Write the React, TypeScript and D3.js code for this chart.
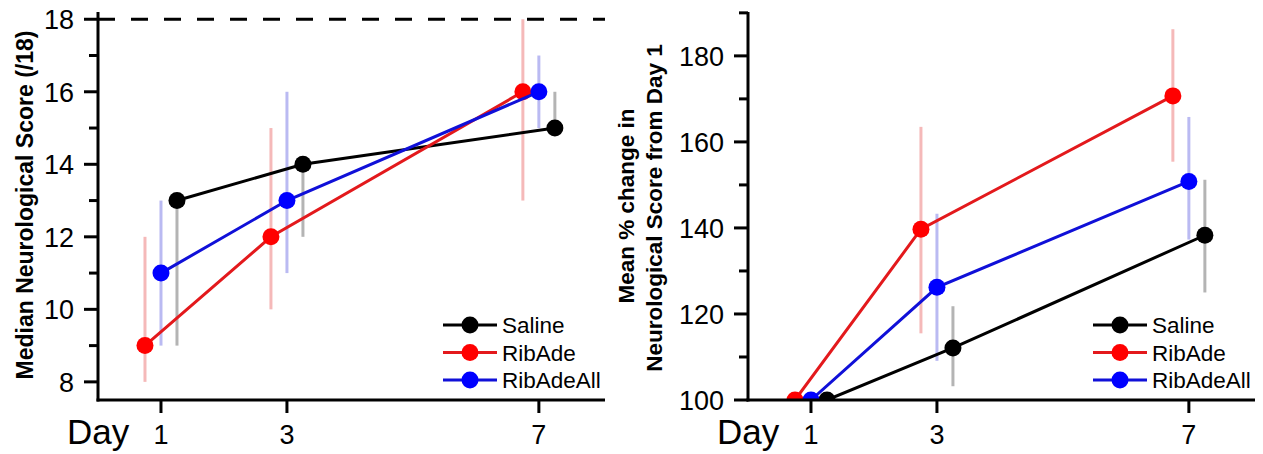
import * as d3 from 'd3'

// x categories
const days = [1, 3, 7]
const seriesNames = ['Saline', 'RibAde', 'RibAdeAll']

// left panel: median neurological score with IQR
const medianSaline = [13, 14, 15]
const medianSalineLow = [9, 12, 15]
const medianSalineHigh = [13, 14, 16]
const medianRibAde = [9, 12, 16]
const medianRibAdeLow = [8, 10, 13]
const medianRibAdeHigh = [12, 15, 18]
const medianRibAdeAll = [11, 13, 16]
const medianRibAdeAllLow = [9, 11, 15]
const medianRibAdeAllHigh = [13, 16, 17]

// right panel: mean % change from day 1
const pctSaline = [100, 112.1, 138.3]
const pctSalineLow = [100, 103.2, 125.0]
const pctSalineHigh = [100, 121.8, 151.2]
const pctRibAde = [100, 139.7, 170.7]
const pctRibAdeLow = [100, 115.5, 155.4]
const pctRibAdeHigh = [100, 163.5, 186.2]
const pctRibAdeAll = [100, 126.2, 150.8]
const pctRibAdeAllLow = [100, 109.1, 137.3]
const pctRibAdeAllHigh = [100, 143.3, 165.8]

const leftMajor = [8, 10, 12, 14, 16, 18]
const leftMinor = [9, 11, 13, 15, 17]
const rightMajor = [100, 120, 140, 160, 180]
const rightMinor = [110, 130, 150, 170, 190]

const FONT = '"Liberation Sans", Arial, sans-serif'
const lineColors = ['#000000', '#e3191c', '#1010d8']
const dotColors = ['#000000', '#ff0000', '#0000ff']
const barColors = ['#b4b4b4', '#f5b9b9', '#babaf2']
const offsets = [16, -16, 0]

type Series = { mid: number[]; lo: number[]; hi: number[] }

function Panel({ left, yDomain, major, minor, series, refLine, clip, id }: {
  left: number
  yDomain: [number, number]
  major: number[]
  minor: number[]
  series: Series[]
  refLine?: number
  clip?: boolean
  id: string
}) {
  const top = 12
  const bottom = 400
  const width = 507
  const x = d3.scaleLinear().domain([0, 8.05]).range([left, left + width])
  const y = d3.scaleLinear().domain(yDomain).range([bottom, top])
  const line = d3.line<number>().x((_, i) => x(days[i])).y(d => y(d))

  return (
    <g>
      {clip && (
        <defs>
          <clipPath id={id}>
            <rect x={left} y={top} width={width} height={bottom - top} />
          </clipPath>
        </defs>
      )}
      {refLine !== undefined && (
        <line x1={left} x2={left + width} y1={y(refLine)} y2={y(refLine)}
          stroke="#000" strokeWidth={3} strokeDasharray="17 16" />
      )}
      <g clipPath={clip ? `url(#${id})` : undefined}>
        {series.map((s, si) => s.mid.map((_, i) => (
          <line key={`e${si}-${i}`} x1={x(days[i]) + offsets[si]} x2={x(days[i]) + offsets[si]}
            y1={y(s.lo[i])} y2={y(s.hi[i])} stroke={barColors[si]} strokeWidth={3} />
        )))}
        {series.map((s, si) => (
          <g key={`s${si}`} transform={`translate(${offsets[si]},0)`}>
            <path d={line(s.mid) || ''} fill="none" stroke={lineColors[si]} strokeWidth={3} />
            {s.mid.map((v, i) => (
              <circle key={i} cx={x(days[i])} cy={y(v)} r={8.5} fill={dotColors[si]} />
            ))}
          </g>
        ))}
      </g>
      {/* axes */}
      <line x1={left} x2={left} y1={top} y2={bottom + 1.5} stroke="#000" strokeWidth={3} />
      <line x1={left - 1.5} x2={left + width} y1={bottom} y2={bottom} stroke="#000" strokeWidth={3} />
      {major.map(t => (
        <g key={`M${t}`}>
          <line x1={left - 14} x2={left} y1={y(t)} y2={y(t)} stroke="#000" strokeWidth={3} />
          <text x={left - 24} y={y(t) + 10} textAnchor="end" fontSize={27} fontFamily={FONT}>{t}</text>
        </g>
      ))}
      {minor.map(t => (
        <line key={`m${t}`} x1={left - 9} x2={left} y1={y(t)} y2={y(t)} stroke="#000" strokeWidth={3} />
      ))}
      {days.map(d => (
        <g key={`d${d}`}>
          <line x1={x(d)} x2={x(d)} y1={bottom} y2={bottom + 13} stroke="#000" strokeWidth={3} />
          <text x={x(d)} y={444} textAnchor="middle" fontSize={27} fontFamily={FONT}>{d}</text>
        </g>
      ))}
      <text x={left - 31} y={444} fontSize={35} fontFamily={FONT}>Day</text>
      {/* legend */}
      {seriesNames.map((n, i) => (
        <g key={n} transform={`translate(${left + 345},${325 + i * 27.5})`}>
          <line x1={0} x2={54} y1={0} y2={0} stroke={lineColors[i]} strokeWidth={3} />
          <circle cx={27} cy={0} r={8.5} fill={dotColors[i]} />
          <text x={59} y={8} fontSize={22.5} fontFamily={FONT}>{n}</text>
        </g>
      ))}
    </g>
  )
}

export default function App() {
  const leftSeries: Series[] = [
    { mid: medianSaline, lo: medianSalineLow, hi: medianSalineHigh },
    { mid: medianRibAde, lo: medianRibAdeLow, hi: medianRibAdeHigh },
    { mid: medianRibAdeAll, lo: medianRibAdeAllLow, hi: medianRibAdeAllHigh },
  ]
  const rightSeries: Series[] = [
    { mid: pctSaline, lo: pctSalineLow, hi: pctSalineHigh },
    { mid: pctRibAde, lo: pctRibAdeLow, hi: pctRibAdeHigh },
    { mid: pctRibAdeAll, lo: pctRibAdeAllLow, hi: pctRibAdeAllHigh },
  ]
  return (
    <svg width={1263} height={454} style={{ position: 'absolute', left: 0, top: 0, background: '#fff' }}>
      <Panel id="cl" left={98} yDomain={[7.5, 18.2]} major={leftMajor} minor={leftMinor}
        series={leftSeries} refLine={18} />
      <Panel id="cr" left={748} yDomain={[100, 190.2]} major={rightMajor} minor={rightMinor}
        series={rightSeries} clip />
      <text transform="translate(33,205) rotate(-90)" textAnchor="middle" fontSize={23}
        fontWeight="bold" fontFamily={FONT}>Median Neurological Score (/18)</text>
      <text transform="translate(634,206) rotate(-90)" textAnchor="middle" fontSize={22.5}
        fontWeight="bold" fontFamily={FONT}>Mean % change in</text>
      <text transform="translate(662,208) rotate(-90)" textAnchor="middle" fontSize={22.5}
        fontWeight="bold" fontFamily={FONT}>Neurological Score from Day 1</text>
    </svg>
  )
}
